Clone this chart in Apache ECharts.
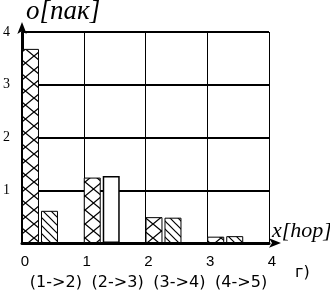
<!DOCTYPE html>
<html>
<head>
<meta charset="utf-8">
<script src="https://cdn.jsdelivr.net/npm/echarts@6/dist/echarts.min.js"></script>
<style>html,body{margin:0;padding:0;background:#fff}#c{width:330px;height:293px}</style>
</head>
<body>
<div id="c"></div>
<script>
// ---- data ----
var categories = ['(1->2)', '(2->3)', '(3->4)', '(4->5)'];
var crossValues = [3.68, 1.24, 0.49, 0.12];
var hatchValues = [0.61, 1.27, 0.48, 0.13];
var plainIndex = 1; // second bar of this category drawn plain white
var xTicks = [0, 4, 1];   // min, max, interval
var yTicks = [0, 4, 1];
var yName = 'o[пак]';
var xName = 'x[hop]';
var cornerLabel = 'г)';

function makeCross() {
  var c = document.createElement('canvas');
  c.width = 17; c.height = 14;
  var g = c.getContext('2d');
  g.fillStyle = '#fff'; g.fillRect(0, 0, 17, 14);
  g.strokeStyle = '#000'; g.lineWidth = 1.3;
  g.beginPath();
  g.moveTo(0, 0); g.lineTo(17, 14);
  g.moveTo(17, 0); g.lineTo(0, 14);
  g.stroke();
  return c;
}
function makeHatch() {
  var c = document.createElement('canvas');
  c.width = 8; c.height = 8;
  var g = c.getContext('2d');
  g.fillStyle = '#fff'; g.fillRect(0, 0, 8, 8);
  g.strokeStyle = '#000'; g.lineWidth = 1.2;
  g.beginPath();
  g.moveTo(-2, -2); g.lineTo(10, 10);
  g.moveTo(-2, 6); g.lineTo(2, 10);
  g.moveTo(6, -2); g.lineTo(10, 2);
  g.stroke();
  return c;
}
var crossPat = { image: makeCross(), repeat: 'repeat' };
var hatchPat = { image: makeHatch(), repeat: 'repeat' };

var hatchData = hatchValues.map(function (v, i) {
  return i === plainIndex ? { value: v, itemStyle: { color: '#fff', borderWidth: 1.5 } } : v;
});

var chart = echarts.init(document.getElementById('c'), null, { renderer: 'canvas' });
chart.setOption({
  animation: false,
  backgroundColor: '#fff',
  grid: { left: 22, right: 61, top: 32, bottom: 50, containLabel: false, outerBoundsMode: 'none' },
  xAxis: [
    {
      type: 'category', data: categories, boundaryGap: true, position: 'bottom',
      axisLine: { show: false }, axisTick: { show: false }, splitLine: { show: false },
      axisLabel: { interval: 0, hideOverlap: false, margin: 32, fontFamily: 'DejaVu Sans', fontSize: 16,
        color: '#000', padding: [0, 0, 0, 6] }
    },
    {
      type: 'value', min: xTicks[0], max: xTicks[1], interval: xTicks[2], position: 'bottom',
      name: xName, nameLocation: 'end', nameGap: 3,
      nameTextStyle: { fontFamily: 'Liberation Serif', fontStyle: 'italic', fontSize: 22, color: '#000',
        align: 'left', verticalAlign: 'bottom', padding: [0, 0, 1, 0] },
      axisLine: { show: true, lineStyle: { color: '#000', width: 3 },
        symbol: ['none', 'arrow'], symbolSize: [7, 12], symbolOffset: [0, 12] },
      axisTick: { show: false },
      axisLabel: { hideOverlap: false, margin: 11, fontFamily: 'Liberation Sans', fontSize: 15, color: '#000',
        padding: [0, 0, 0, 6] },
      splitLine: { show: true, lineStyle: { color: '#000', width: 1 } }
    }
  ],
  yAxis: {
    type: 'value', min: yTicks[0], max: yTicks[1], interval: yTicks[2],
    name: yName, nameLocation: 'end', nameGap: 7,
    nameTextStyle: { fontFamily: 'Liberation Serif', fontStyle: 'italic', fontSize: 27, color: '#000',
      align: 'left', verticalAlign: 'bottom', padding: [0, 0, 0, 4] },
    axisLine: { show: true, lineStyle: { color: '#000', width: 3 },
      symbol: ['none', 'arrow'], symbolSize: [7, 12], symbolOffset: [0, 10] },
    axisTick: { show: false },
    axisLabel: { margin: 12, fontFamily: 'Liberation Serif', fontSize: 14, color: '#000',
      formatter: function (v) { return v === 0 ? '' : String(v); } },
    splitLine: { show: true, lineStyle: { color: '#000', width: 2 } }
  },
  graphic: [{
    type: 'text', left: 295, top: 265,
    style: { text: cornerLabel, font: '16px "DejaVu Sans"', fill: '#000' }
  }],
  series: [
    {
      type: 'bar', xAxisIndex: 0, yAxisIndex: 0, data: crossValues,
      barWidth: '27.5%', barGap: '11.8%',
      itemStyle: { color: crossPat, borderColor: '#000', borderWidth: 1 }
    },
    {
      type: 'bar', xAxisIndex: 0, yAxisIndex: 0, data: hatchData,
      barWidth: '27.5%', barGap: '11.8%',
      itemStyle: { color: hatchPat, borderColor: '#000', borderWidth: 1 }
    },
    {
      type: 'bar', xAxisIndex: 0, yAxisIndex: 0, data: categories.map(function () { return '-'; }),
      barWidth: '38.5%', barGap: '11.8%', silent: true,
      itemStyle: { color: 'transparent' }
    }
  ]
});
</script>
</body>
</html>
